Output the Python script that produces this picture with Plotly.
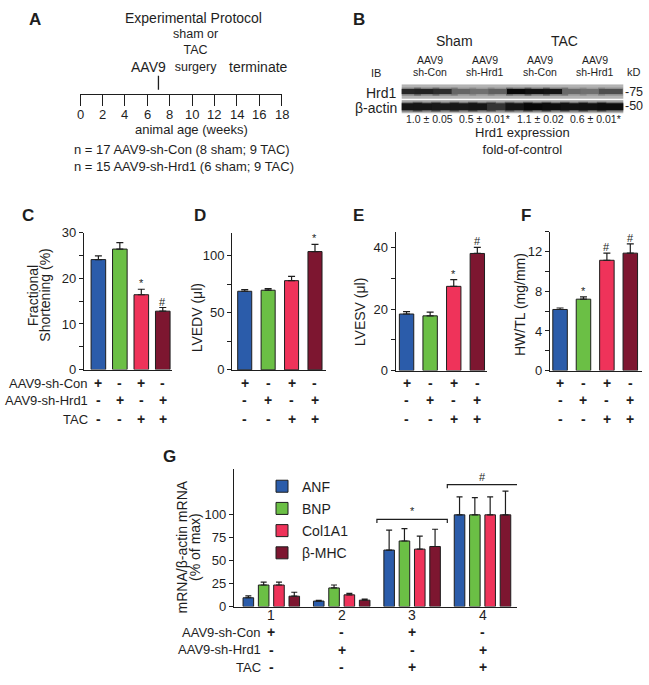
import plotly.graph_objects as go

W, H = 649, 685
FONT = "Liberation Sans, Arial, Helvetica, sans-serif"
INK = "#1e1e1e"
GROUP_COLORS = ["#2b5caa", "#6bbf45", "#ef335a", "#7d1630"]

# A: experimental protocol timeline
timeline_weeks = [0, 2, 4, 6, 8, 10, 12, 14, 16, 18]
injection_week = [7]
event_text = ["AAV9", "sham or<br>TAC<br>surgery", "terminate"]
event_text_week = [6.1, 10.3, 15.9]
cohort_text = [
    "n = 17 AAV9-sh-Con (8 sham; 9 TAC)",
    "n = 15 AAV9-sh-Hrd1 (6 sham; 9 TAC)",
]

# B: Hrd1 immunoblot (band darkness 0-1 per lane)
blot_lanes = list(range(1, 13))
hrd1_density = [0.78, 0.80, 0.74, 0.42, 0.36, 0.45, 0.95, 0.90, 0.88, 0.40, 0.36, 0.55]
actin_density = [0.88, 0.88, 0.86, 0.86, 0.88, 0.70, 0.88, 0.95, 0.92, 0.90, 0.90, 0.92]
blot_cohorts = ["Sham", "TAC"]
blot_cohort_lane = [3.5, 9.5]
blot_conditions = ["sh-Con", "sh-Hrd1", "sh-Con", "sh-Hrd1"]
blot_condition_lane = [2, 5, 8, 11]
hrd1_fold = [1.0, 0.5, 1.1, 0.6]
hrd1_fold_sem = [0.05, 0.01, 0.02, 0.01]
hrd1_fold_sig = ["", "*", "", "*"]

# C-F: echo / gravimetry, groups = sh-Con, sh-Hrd1, sh-Con+TAC, sh-Hrd1+TAC
treatment_rows = ["AAV9-sh-Con", "AAV9-sh-Hrd1", "TAC"]
treatment_signs = [["+", "-", "+", "-"], ["-", "+", "-", "+"], ["-", "-", "+", "+"]]

fs_mean = [24.1, 26.4, 16.4, 12.8]
fs_sem = [0.8, 1.4, 1.2, 0.8]
fs_sig = ["", "", "*", "#"]

lvedv_mean = [68.9, 69.8, 78.2, 103.7]
lvedv_sem = [1.4, 1.4, 3.7, 6.2]
lvedv_sig = ["", "", "", "*"]

lvesv_mean = [18.4, 17.8, 27.4, 38.1]
lvesv_sem = [0.8, 1.2, 2.2, 2.0]
lvesv_sig = ["", "", "*", "#"]

hwtl_mean = [6.17, 7.21, 11.14, 11.86]
hwtl_sem = [0.15, 0.24, 0.72, 0.93]
hwtl_sig = ["", "*", "#", "#"]

# G: hypertrophy / fibrosis marker mRNA (% of max)
mrna_groups = ["1", "2", "3", "4"]
mrna_genes = ["ANF", "BNP", "Col1A1", "β-MHC"]
anf_mean = [9.6, 6.0, 61.6, 100]
anf_sem = [2.1, 0.7, 21.7, 19.5]
bnp_mean = [23.5, 20.3, 71.5, 100]
bnp_sem = [3.2, 3.2, 13.5, 18.8]
col1a1_mean = [23.5, 12.8, 62.6, 100]
col1a1_sem = [3.2, 1.7, 14.3, 19.5]
bmhc_mean = [11.3, 7.0, 65.5, 100]
bmhc_sem = [4.3, 1.1, 18.8, 25.9]
mrna_bracket_level = [None, None, 95, 133]
mrna_bracket_sig = ["", "", "*", "#"]


def px_x(x):
    return x / W


def px_y(y):
    return 1 - y / H


annotations = []
shapes = []


def label(text, x, y, size=13, xref="paper", xanchor="center", yanchor="middle",
          angle=0, bold=False, xshift=0):
    annotations.append(dict(
        text=f"<b>{text}</b>" if bold else text,
        x=px_x(x) if xref == "paper" else x, y=px_y(y),
        xref=xref, yref="paper", xanchor=xanchor, yanchor=yanchor,
        textangle=angle, showarrow=False, xshift=xshift, borderpad=0,
        font=dict(family=FONT, size=size, color=INK),
    ))


def sign(s):
    # the +/- table uses heavy glyphs
    return "<b>+</b>" if s == "+" else "<b>‐</b>"


fig = go.Figure()
layout = {}

# ---------------- A ----------------
fig.add_trace(go.Scatter(
    x=injection_week, y=[0.17], mode="markers", xaxis="x", yaxis="y",
    marker=dict(symbol="line-ns", size=10, line=dict(color=INK, width=1.3)),
    showlegend=False, hoverinfo="skip",
))
layout["xaxis"] = dict(
    domain=[px_x(80), px_x(281.7)], range=[0, 18], anchor="y",
    showline=True, linecolor=INK, linewidth=1.3, ticks="outside", ticklen=11,
    tickwidth=1.3, tickcolor=INK, tickvals=timeline_weeks, showticklabels=False,
    showgrid=False, zeroline=False,
)
layout["yaxis"] = dict(domain=[px_y(89.3), px_y(20)], range=[0, 1], anchor="x", visible=False)
for wk in timeline_weeks:
    label(str(wk), wk, 109.5, size=13, xref="x")
label("Experimental Protocol", 193.3, 11.7, size=14)
for text, wk in zip(event_text, event_text_week):
    if "<br>" in text:
        label(text, wk, 69.2, size=12.5, xref="x", yanchor="bottom")
    else:
        label(text, wk, 61.7, size=14, xref="x")
label("animal age (weeks)", 191.7, 125, size=13)
for k, line in enumerate(cohort_text):
    label(line, 72.7, 146 + 17.3 * k, size=13, xanchor="left")

# ---------------- B ----------------
for y_row, density, length, thick in [(1.5, hrd1_density, 17, 5), (0.47, actin_density, 19, 7)]:
    shade = [f"rgb({int(175 * (1 - d))},{int(175 * (1 - d))},{int(175 * (1 - d))})" for d in density]
    fig.add_trace(go.Scatter(
        x=blot_lanes, y=[y_row] * len(blot_lanes), mode="markers", xaxis="x2", yaxis="y2",
        marker=dict(symbol="line-ew", size=length + 1, opacity=0.35,
                    line=dict(color=shade, width=thick + 3)),
        showlegend=False, hoverinfo="skip",
    ))
    fig.add_trace(go.Scatter(
        x=blot_lanes, y=[y_row] * len(blot_lanes), mode="markers", xaxis="x2", yaxis="y2",
        marker=dict(symbol="line-ew", size=length, line=dict(color=shade, width=thick)),
        showlegend=False, hoverinfo="skip",
    ))
layout["xaxis2"] = dict(domain=[px_x(401.7), px_x(623.3)], range=[0.64, 12.68], anchor="y2", visible=False)
layout["yaxis2"] = dict(domain=[px_y(109), px_y(79)], range=[0, 2], anchor="x2", visible=False)
for y0, y1 in [(1.02, 2.0), (0.0, 0.92)]:
    shapes.append(dict(type="rect", xref="x2 domain", yref="y2", x0=0, x1=1, y0=y0, y1=y1,
                       fillcolor="#b3b3b3", line=dict(width=0), layer="below"))
for name, lane in zip(blot_cohorts, blot_cohort_lane):
    label(name, lane, 35, size=14, xref="x2")
for cond, lane in zip(blot_conditions, blot_condition_lane):
    label("AAV9", lane, 54.3, size=10.5, xref="x2", xshift=3)
    label(cond, lane, 66, size=10.5, xref="x2", xshift=3)
for m, s, sig, lane in zip(hrd1_fold, hrd1_fold_sem, hrd1_fold_sig, blot_condition_lane):
    label(f"{m:.1f} ± {s:.2f}{sig}", lane, 115, size=10.5, xref="x2", xshift=3)
label("IB", 375.7, 67.7, size=11)
label("kD", 634, 66, size=11)
label("Hrd1", 398, 87.7, size=14, xanchor="right")
label("β-actin", 398, 103.3, size=14, xanchor="right")
label("-75", 623.5, 86.5, size=12.5, xanchor="left")
label("-50", 623.5, 101.5, size=12.5, xanchor="left")
label("Hrd1 expression<br>fold-of-control", 522.7, 137, size=13)

# ---------------- C-F ----------------
panels = [
    dict(n=3, mean=fs_mean, sem=fs_sem, sig=fs_sig, x_px=(84, 172), y_px=(230.7, 370.7),
         x_range=[-0.67, 3.43], width=0.68, y_range=[0, 30], dtick=10, minor=5,
         titles=[("Fractional", 32.8), ("Shortening (%)", 44.1)], title_y=295),
    dict(n=4, mean=lvedv_mean, sem=lvedv_sem, sig=lvedv_sig, x_px=(232.3, 326), y_px=(231, 371),
         x_range=[-0.53, 3.47], width=0.6, y_range=[0, 120], dtick=50, minor=25,
         titles=[("LVEDV (μl)", 197.3)], title_y=318),
    dict(n=5, mean=lvesv_mean, sem=lvesv_sem, sig=lvesv_sig, x_px=(395.7, 487), y_px=(230.3, 371.7),
         x_range=[-0.46, 3.41], width=0.61, y_range=[0, 45], dtick=20, minor=10,
         titles=[("LVESV (μl)", 360)], title_y=311),
    dict(n=6, mean=hwtl_mean, sem=hwtl_sem, sig=hwtl_sig, x_px=(550, 642), y_px=(230, 371.7),
         x_range=[-0.43, 3.5], width=0.62, y_range=[0, 14], dtick=4, minor=2,
         titles=[("HW/TL (mg/mm)", 520.7)], title_y=304),
]
sign_row_y = [384.3, 402.3, 420.8]
for p in panels:
    n = p["n"]
    xa, ya = f"x{n}", f"y{n}"
    fig.add_trace(go.Bar(
        x=list(range(4)), y=p["mean"], width=p["width"], xaxis=xa, yaxis=ya,
        marker=dict(color=GROUP_COLORS, line=dict(color=INK, width=1)),
        error_y=dict(type="data", array=p["sem"], arrayminus=[0] * 4, symmetric=False,
                     color=INK, thickness=1.2, width=3.5),
        showlegend=False, hoverinfo="skip",
    ))
    layout[f"xaxis{n}"] = dict(
        domain=[px_x(p["x_px"][0]), px_x(p["x_px"][1])], range=p["x_range"], anchor=ya,
        showline=True, linecolor=INK, linewidth=1.3, showticklabels=False, ticks="",
        showgrid=False, zeroline=False,
    )
    layout[f"yaxis{n}"] = dict(
        domain=[px_y(p["y_px"][1]), px_y(p["y_px"][0])], range=p["y_range"], anchor=xa,
        showline=True, linecolor=INK, linewidth=1.3, ticks="outside", ticklen=4,
        tickwidth=1.2, tickcolor=INK, tick0=0, dtick=p["dtick"],
        minor=dict(ticks="outside", dtick=p["minor"], ticklen=4, tickwidth=1.2, tickcolor=INK),
        tickfont=dict(family=FONT, size=13, color=INK), showgrid=False, zeroline=False,
    )
    for j, (m, s, sig) in enumerate(zip(p["mean"], p["sem"], p["sig"])):
        if sig:
            annotations.append(dict(
                text=sig, x=j, y=m + s, xref=xa, yref=ya, yanchor="bottom", showarrow=False,
                yshift=-1, borderpad=0, font=dict(family=FONT, size=11, color=INK),
            ))
    for row_y, signs in zip(sign_row_y, treatment_signs):
        for j, sgn in enumerate(signs):
            label(sign(sgn), j, row_y, size=14, xref=xa)
    for text, tx in p["titles"]:
        label(text, tx, p["title_y"], size=14, angle=-90)
for row_y, name in zip(sign_row_y, treatment_rows):
    label(name, 89, row_y + 0.5, size=13, xanchor="right")

# ---------------- G ----------------
gene_means = [anf_mean, bnp_mean, col1a1_mean, bmhc_mean]
gene_sems = [anf_sem, bnp_sem, col1a1_sem, bmhc_sem]
for gene, mean, sem, color in zip(mrna_genes, gene_means, gene_sems, GROUP_COLORS):
    fig.add_trace(go.Bar(
        x=list(range(4)), y=mean, name=gene, xaxis="x7", yaxis="y7",
        legendgroup=gene,
        marker=dict(color=color, line=dict(color=INK, width=1)),
        error_y=dict(type="data", array=sem, arrayminus=[0] * 4, symmetric=False,
                     color=INK, thickness=1.2, width=3),
        hoverinfo="skip",
    ))
for g, (lvl, sig) in enumerate(zip(mrna_bracket_level, mrna_bracket_sig)):
    if lvl is None:
        continue
    fig.add_trace(go.Scatter(
        x=[g - 0.5, g - 0.5, g + 0.5, g + 0.5], y=[lvl - 4, lvl, lvl, lvl - 4],
        mode="lines", line=dict(color=INK, width=1.2), xaxis="x7", yaxis="y7",
        showlegend=False, hoverinfo="skip",
    ))
    annotations.append(dict(
        text=sig, x=g, y=lvl, xref="x7", yref="y7", yanchor="bottom", showarrow=False,
        yshift=1, borderpad=0, font=dict(family=FONT, size=11, color=INK),
    ))
layout["xaxis7"] = dict(
    domain=[px_x(234), px_x(517)], range=[-0.53, 3.49], anchor="y7",
    showline=True, linecolor=INK, linewidth=1.3, ticks="", showticklabels=False,
    showgrid=False, zeroline=False,
)
layout["yaxis7"] = dict(
    domain=[px_y(613), px_y(472.3)], range=[0, 150], anchor="x7",
    showline=True, linecolor=INK, linewidth=1.3, ticks="outside", ticklen=4,
    tickwidth=1.2, tickcolor=INK, tickvals=[0, 25, 50, 75, 100],
    tickfont=dict(family=FONT, size=13, color=INK), showgrid=False, zeroline=False,
)
for j, grp in enumerate(mrna_groups):
    label(grp, j, 622, size=14, xref="x7")
g_row_y = [639, 657, 675]
for row_y, name, signs in zip(g_row_y, treatment_rows, treatment_signs):
    label(name, 262, row_y, size=13, xanchor="right")
    for j, sgn in enumerate(signs):
        label(sign(sgn), j, row_y, size=14, xref="x7")
label("mRNA/β-actin mRNA", 181.5, 552, size=14, angle=-90)
label("(% of max)", 195, 552, size=14, angle=-90)

# panel letters
for letter, x, y in [("A", 35, 13), ("B", 359, 13), ("C", 27.5, 213), ("D", 200, 213),
                     ("E", 358, 213), ("F", 526, 213), ("G", 169, 460)]:
    label(letter, x, y, size=17, bold=True)

fig.update_layout(
    **layout,
    width=W, height=H,
    margin=dict(l=0, r=0, t=0, b=0),
    paper_bgcolor="white", plot_bgcolor="rgba(0,0,0,0)",
    font=dict(family=FONT, color=INK),
    barmode="group", bargap=0.13, bargroupgap=0.31,
    annotations=annotations, shapes=shapes,
    showlegend=True,
    legend=dict(x=px_x(262), y=px_y(474), xanchor="left", yanchor="top",
                font=dict(family=FONT, size=14, color=INK), bgcolor="rgba(0,0,0,0)",
                tracegroupgap=1),
)

# drop the browser's default page margin so the figure sits at the window origin
fig.write_html("out.html", config={"displayModeBar": False},
               post_script="document.body.style.margin = '0';")
